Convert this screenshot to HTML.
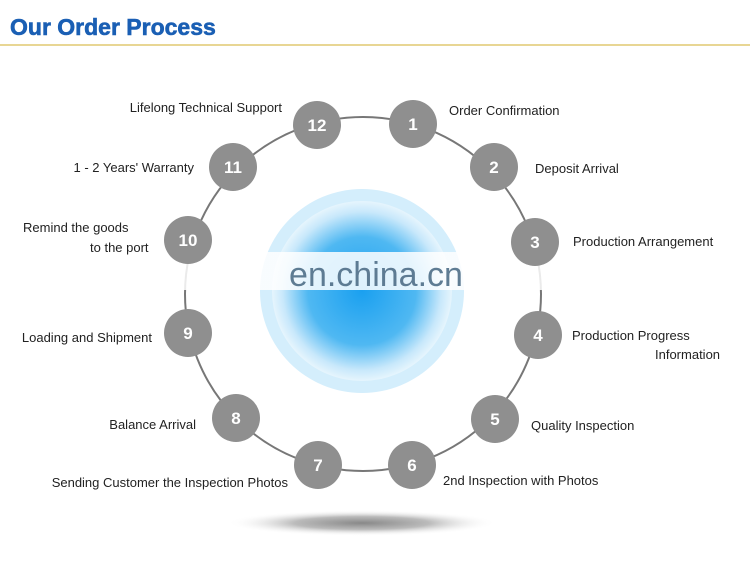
<!DOCTYPE html><html><head><style>body{margin:0;background:#fff;width:750px;height:573px;overflow:hidden;font-family:"Liberation Sans",sans-serif}</style></head><body>
<svg width="750" height="573" xmlns="http://www.w3.org/2000/svg" font-family="Liberation Sans, sans-serif">
<defs>
<radialGradient id="g" cx="50%" cy="50%" r="50%"><stop offset="0" stop-color="#1aa0f0"/><stop offset="0.6" stop-color="#4fb8f2"/><stop offset="0.88" stop-color="#c8e8fb"/><stop offset="1" stop-color="#e6f5fd"/></radialGradient>
<radialGradient id="s" cx="50%" cy="50%" r="50%"><stop offset="0" stop-color="#888"/><stop offset="0.5" stop-color="#bbb"/><stop offset="1" stop-color="#fff" stop-opacity="0"/></radialGradient>
<linearGradient id="w" x1="0" x2="1"><stop offset="0" stop-color="#fff" stop-opacity="0"/><stop offset="0.1" stop-color="#fff" stop-opacity="0.85"/><stop offset="0.9" stop-color="#fff" stop-opacity="0.85"/><stop offset="1" stop-color="#fff" stop-opacity="0"/></linearGradient>
</defs>
<text x="10" y="35" font-size="23" font-weight="bold" fill="#1a5fb4" stroke="#1a5fb4" stroke-width="0.6">Our Order Process</text>
<line x1="0" y1="45" x2="750" y2="45" stroke="#e0c870" stroke-width="1.5"/>
<ellipse cx="362" cy="523" rx="135" ry="13" fill="url(#s)"/>
<ellipse cx="363" cy="294" rx="178" ry="177" fill="none" stroke="#777" stroke-width="2"/>
<circle cx="362" cy="291" r="102" fill="#d4eefc"/>
<circle cx="362" cy="291" r="90" fill="url(#g)"/>
<rect x="80" y="252" width="570" height="38" fill="url(#w)"/>
<text x="376" y="286" font-size="34" fill="#4f6f88" text-anchor="middle" opacity="0.9">en.china.cn</text>
<g fill="#8f8f8f">
<circle cx="413" cy="124" r="24"/><circle cx="494" cy="167" r="24"/><circle cx="535" cy="242" r="24"/><circle cx="538" cy="335" r="24"/><circle cx="495" cy="419" r="24"/><circle cx="412" cy="465" r="24"/><circle cx="318" cy="465" r="24"/><circle cx="236" cy="418" r="24"/><circle cx="188" cy="333" r="24"/><circle cx="188" cy="240" r="24"/><circle cx="233" cy="167" r="24"/><circle cx="317" cy="125" r="24"/>
</g>
<g fill="#fff" font-size="17" font-weight="bold" text-anchor="middle">
<text x="413" y="130">1</text><text x="494" y="173">2</text><text x="535" y="248">3</text><text x="538" y="341">4</text><text x="495" y="425">5</text><text x="412" y="471">6</text><text x="318" y="471">7</text><text x="236" y="424">8</text><text x="188" y="339">9</text><text x="188" y="246">10</text><text x="233" y="173">11</text><text x="317" y="131">12</text>
</g>
<g fill="#222" font-size="13">
<text x="449" y="115">Order Confirmation</text>
<text x="535" y="173">Deposit Arrival</text>
<text x="573" y="246">Production Arrangement</text>
<text x="572" y="340">Production Progress</text>
<text x="655" y="359">Information</text>
<text x="531" y="430">Quality Inspection</text>
<text x="443" y="485">2nd Inspection with Photos</text>
<text x="288" y="487" text-anchor="end">Sending Customer the Inspection Photos</text>
<text x="196" y="429" text-anchor="end">Balance Arrival</text>
<text x="152" y="342" text-anchor="end">Loading and Shipment</text>
<text x="23" y="232">Remind the goods</text>
<text x="90" y="252">to the port</text>
<text x="194" y="172" text-anchor="end">1 - 2 Years' Warranty</text>
<text x="282" y="112" text-anchor="end">Lifelong Technical Support</text>
</g>
</svg>
</body></html>
